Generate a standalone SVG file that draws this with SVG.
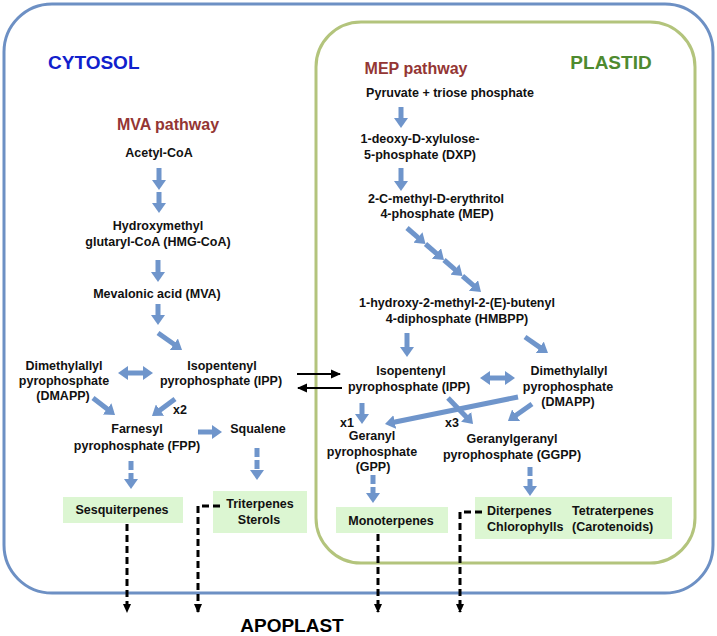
<svg xmlns="http://www.w3.org/2000/svg" width="717" height="636" viewBox="0 0 717 636">
<style>
text{font-family:"Liberation Sans",Arial,sans-serif;font-weight:bold}
.t{font-size:12.5px;fill:#111;text-anchor:middle}
.tl{font-size:12.5px;fill:#111}
.ba{stroke:#6f95cb;stroke-width:5;fill:none;marker-end:url(#bh)}
.bd{stroke:#6f95cb;stroke-width:5;fill:none;stroke-dasharray:9 3;marker-end:url(#bh)}
.bb{stroke:#6f95cb;stroke-width:5;fill:none;marker-end:url(#bh);marker-start:url(#bh)}
.ka{stroke:#000;stroke-width:2;fill:none;marker-end:url(#kh)}
.kd{stroke:#000;stroke-width:3;fill:none;stroke-dasharray:7 4;marker-end:url(#kd)}
.box{fill:#dcf6d2}
</style>
<defs>
<marker id="bh" markerUnits="userSpaceOnUse" markerWidth="11" markerHeight="14" refX="1" refY="7" orient="auto-start-reverse"><path d="M0,0 L10,7 L0,14 z" fill="#6f95cb"/></marker>
<marker id="kh" markerUnits="userSpaceOnUse" markerWidth="10" markerHeight="10" refX="9" refY="5" orient="auto"><path d="M0,0.5 L10,5 L0,9.5 z" fill="#000"/></marker>
<marker id="kd" markerUnits="userSpaceOnUse" markerWidth="9" markerHeight="9" refX="8" refY="4.5" orient="auto"><path d="M0,0.5 L9,4.5 L0,8.5 z" fill="#000"/></marker>
</defs>
<rect width="717" height="636" fill="#fff"/>
<g id="cytosol">
<rect x="4" y="4" width="709" height="589" rx="48" ry="48" fill="none" stroke="#6d90c4" stroke-width="3"/>
<text x="48" y="69" style="font-size:19px;fill:#1020cc">CYTOSOL</text>
</g>
<g id="plastid">
<rect x="316" y="22" width="379" height="541" rx="45" ry="45" fill="none" stroke="#b3c47c" stroke-width="3"/>
<text x="611" y="69" text-anchor="middle" style="font-size:19px;fill:#4e8a2f">PLASTID</text>
</g>
<g id="apoplast"><text x="292" y="632" text-anchor="middle" style="font-size:19px;fill:#000">APOPLAST</text></g>
<g id="mva-title"><text x="168" y="130" text-anchor="middle" style="font-size:16px;fill:#943634">MVA pathway</text></g>
<g id="mep-title"><text x="416" y="74" text-anchor="middle" style="font-size:16px;fill:#943634">MEP pathway</text></g>
<g id="acetyl"><text class="t" x="159" y="157">Acetyl-CoA</text></g>
<g id="hmg"><text class="t" x="158" y="230">Hydroxymethyl</text><text class="t" x="158" y="246">glutaryl-CoA (HMG-CoA)</text></g>
<g id="mva"><text class="t" x="157" y="298">Mevalonic acid (MVA)</text></g>
<g id="dmapp-c"><text class="t" x="64" y="370">Dimethylallyl</text><text class="t" x="64" y="385">pyrophosphate</text><text class="t" x="63" y="400">(DMAPP)</text></g>
<g id="ipp-c"><text class="t" x="222" y="370">Isopentenyl</text><text class="t" x="221" y="385">pyrophosphate (IPP)</text></g>
<g id="fpp"><text class="t" x="137" y="433">Farnesyl</text><text class="t" x="137" y="450">pyrophosphate (FPP)</text></g>
<g id="squalene"><text class="t" x="258" y="433">Squalene</text></g>
<g id="sesqui"><rect class="box" x="63" y="497" width="120" height="26"/><text class="t" x="122" y="514">Sesquiterpenes</text></g>
<g id="triterp"><rect class="box" x="213" y="491" width="94" height="42"/><text class="t" x="260" y="508">Triterpenes</text><text class="t" x="259" y="524">Sterols</text></g>
<g id="pyruvate"><text class="t" x="450" y="97">Pyruvate + triose phosphate</text></g>
<g id="dxp"><text class="t" x="420" y="143">1-deoxy-D-xylulose-</text><text class="t" x="420" y="159">5-phosphate (DXP)</text></g>
<g id="mep"><text class="t" x="436" y="203">2-C-methyl-D-erythritol</text><text class="t" x="437" y="218">4-phosphate (MEP)</text></g>
<g id="hmbpp"><text class="t" x="457" y="307">1-hydroxy-2-methyl-2-(E)-butenyl</text><text class="t" x="457" y="323">4-diphosphate (HMBPP)</text></g>
<g id="ipp-p"><text class="t" x="411" y="375">Isopentenyl</text><text class="t" x="409" y="391">pyrophosphate (IPP)</text></g>
<g id="dmapp-p"><text class="t" x="569" y="375">Dimethylallyl</text><text class="t" x="568" y="391">pyrophosphate</text><text class="t" x="568" y="406">(DMAPP)</text></g>
<g id="gpp"><text class="t" x="372" y="440">Geranyl</text><text class="t" x="372" y="456">pyrophosphate</text><text class="t" x="373" y="471">(GPP)</text></g>
<g id="ggpp"><text class="t" x="512" y="443">Geranylgeranyl</text><text class="t" x="512" y="459">pyrophosphate (GGPP)</text></g>
<g id="mono"><rect class="box" x="336" y="507" width="112" height="26"/><text class="t" x="391" y="525">Monoterpenes</text></g>
<g id="diterp"><rect class="box" x="475" y="497" width="197" height="42"/><text class="tl" x="487" y="515">Diterpenes</text><text class="tl" x="487" y="531">Chlorophylls</text><text class="tl" x="572" y="515">Tetraterpenes</text><text class="tl" x="572" y="531">(Carotenoids)</text></g>
<g id="labels"><text class="tl" x="173" y="414">x2</text><text class="tl" x="340" y="427">x1</text><text class="tl" x="445" y="427">x3</text></g>
<g id="connectors">
<line class="ba" x1="159" y1="168" x2="159" y2="181"/>
<line class="ba" x1="159" y1="192" x2="159" y2="204"/>
<line class="ba" x1="158" y1="260" x2="158" y2="273"/>
<line class="ba" x1="158" y1="304" x2="158" y2="316"/>
<line class="ba" x1="158" y1="333" x2="174.7" y2="344.8"/>
<line class="bb" x1="127" y1="373" x2="144" y2="373"/>
<line class="ba" x1="93" y1="398" x2="107.9" y2="409.5"/>
<line class="ba" x1="175" y1="399" x2="159.2" y2="410.7"/>
<line class="ba" x1="198" y1="432" x2="213" y2="432"/>
<line class="bd" x1="131" y1="461" x2="131" y2="480"/>
<line class="bd" x1="257" y1="448" x2="257" y2="471"/>
<line class="ba" x1="401" y1="107" x2="401" y2="119"/>
<line class="ba" x1="401" y1="168" x2="401" y2="182"/>
<line class="ba" x1="407" y1="228" x2="418.7" y2="238.1"/>
<line class="ba" x1="425.5" y1="244" x2="437.2" y2="254.1"/>
<line class="ba" x1="444" y1="260" x2="455.7" y2="270.1"/>
<line class="ba" x1="462.5" y1="276" x2="474.2" y2="286.1"/>
<line class="ba" x1="407" y1="333" x2="407" y2="348"/>
<line class="ba" x1="525" y1="337" x2="540.6" y2="347.9"/>
<line class="bb" x1="489" y1="378" x2="506" y2="378"/>
<line class="ka" x1="297" y1="374" x2="340" y2="374"/>
<line class="ka" x1="342" y1="388" x2="298" y2="388"/>
<line class="ba" x1="362" y1="403" x2="362" y2="415"/>
<line class="ba" x1="518" y1="397" x2="393.8" y2="422.2"/>
<line class="ba" x1="448" y1="398" x2="466.8" y2="417.5"/>
<line class="ba" x1="532" y1="404" x2="515.3" y2="415.8"/>
<line class="bd" x1="373" y1="475" x2="373" y2="494"/>
<line class="bd" x1="530" y1="467" x2="530" y2="487"/>
<line class="kd" x1="127" y1="524" x2="127" y2="612"/>
<path class="kd" d="M220,506 H198 V612"/>
<line class="kd" x1="378" y1="534" x2="378" y2="612"/>
<path class="kd" d="M482,512 H460 V612"/>
</g>
</svg>
